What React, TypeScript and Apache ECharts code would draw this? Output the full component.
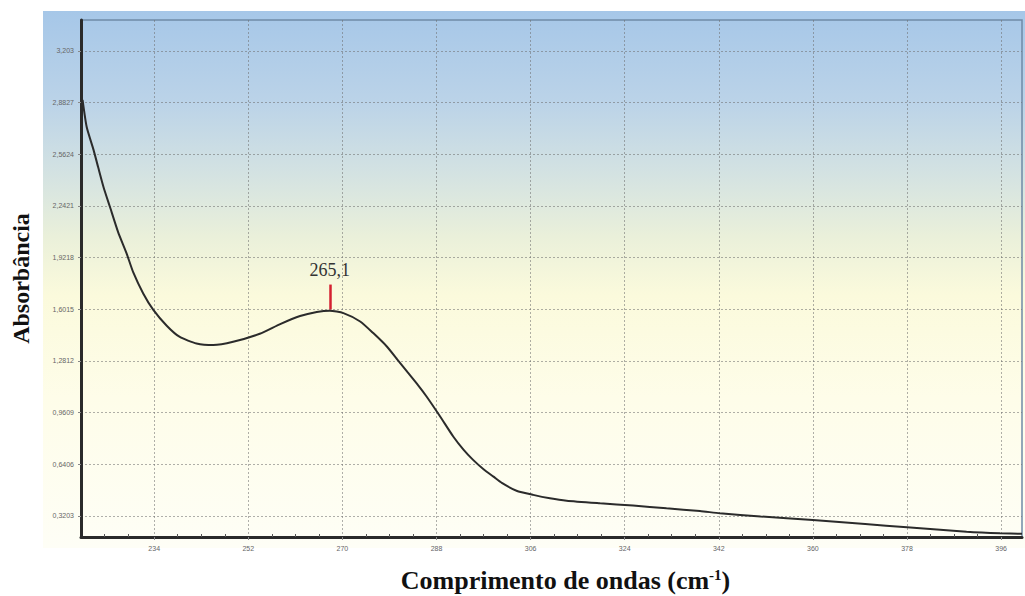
import React, { useEffect, useRef } from "react";
import * as echarts from "echarts";

const wavelengths = [
  220.3, 221.1, 222.4, 223.3, 224.3, 225.5, 227.1, 228.7, 230.0, 231.9, 233.8,
  236.4, 238.9, 242.1, 245.3, 249.1, 254.2, 258.1, 261.9, 265.1, 267.6, 270.2,
  273.4, 275.9, 278.5, 280.4, 282.5, 284.5, 286.1, 288.7, 291.2, 293.2, 295.0,
  297.0, 298.9, 300.5, 303.3, 306.5, 309.7, 312.9, 319.3, 325.6, 332.0, 338.4,
  342.2, 350.0, 360.0, 370.0, 378.0, 389.4, 395.8, 400.0,
];
const absorbance = [
  2.9, 2.73, 2.59, 2.48, 2.36, 2.24, 2.08, 1.95, 1.83, 1.7, 1.6,
  1.5, 1.43, 1.39, 1.38, 1.4, 1.45, 1.51, 1.56, 1.585, 1.593, 1.578,
  1.526, 1.454, 1.371, 1.295, 1.21, 1.13, 1.061, 0.937, 0.813, 0.73, 0.668,
  0.61, 0.564, 0.525, 0.477, 0.451, 0.43, 0.415, 0.399, 0.385, 0.368, 0.351,
  0.337, 0.317, 0.295, 0.27, 0.25, 0.223, 0.213, 0.21,
];

const xTicks = [234, 252, 270, 288, 306, 324, 342, 360, 378, 396];
const xMinorTicks = [
  224.5, 229, 238.5, 243, 247.5, 256.5, 261, 265.5, 274.5, 279, 283.5, 292.5,
  297, 301.5, 310.5, 315, 319.5, 328.5, 333, 337.5, 346.5, 351, 355.5, 364.5,
  369, 373.5, 382.5, 387, 391.5,
];
const yTicks = [0.3203, 0.6406, 0.9609, 1.2812, 1.6015, 1.9218, 2.2421, 2.5624, 2.8827, 3.203];
const yTickLabels = ["0,3203", "0,6406", "0,9609", "1,2812", "1,6015", "1,9218", "2,2421", "2,5624", "2,8827", "3,203"];

const peakWavelength = 267.6;
const peakAbsorbance = 1.6;
const peakMarkerTop = 1.755;
const peakLabel = "265,1";

const xRange = [220, 400];
const yRange = [0.19, 3.395];

export default function App() {
  const ref = useRef<HTMLDivElement>(null);
  useEffect(() => {
    if (!ref.current) return;
    const chart = echarts.init(ref.current, null, { renderer: "svg" });
    const gridLine = { color: "rgba(110,110,110,0.55)", width: 1, type: [2, 2] as any };
    chart.setOption({
      animation: false,
      graphic: [
        {
          type: "rect",
          left: 43,
          top: 11,
          z: -10,
          silent: true,
          shape: { width: 982, height: 537 },
          style: {
            fill: new echarts.graphic.LinearGradient(0, 0, 0, 1, [
              { offset: 0, color: "#a6c7e8" },
              { offset: 0.17, color: "#bbd3e8" },
              { offset: 0.3, color: "#d3e2e2" },
              { offset: 0.42, color: "#eaf0da" },
              { offset: 0.53, color: "#fbfadc" },
              { offset: 0.72, color: "#fefde9" },
              { offset: 1, color: "#fefef6" },
            ]),
          },
        },
      ],
      grid: {
        left: 81,
        right: 3,
        top: 20,
        bottom: 59,
        outerBoundsMode: "none",
        containLabel: false,
        show: true,
        backgroundColor: "transparent",
        borderColor: "#6f8aa6",
        borderWidth: 1.5,
      },
      xAxis: [
        {
          type: "value",
          min: xRange[0],
          max: xRange[1],
          name: "Comprimento de ondas (cm{sup|-1})",
          nameLocation: "middle",
          nameGap: 30,
          nameTextStyle: {
            fontFamily: "Liberation Serif",
            fontWeight: "bold",
            fontSize: 26,
            color: "#111",
            padding: [0, 0, 0, 28],
            rich: {
              sup: {
                fontFamily: "Liberation Serif",
                fontWeight: "bold",
                fontSize: 15,
                color: "#111",
                verticalAlign: "top",
                padding: [0, 0, 12, 0],
              },
            },
          },
          axisLine: { show: true, onZero: false, lineStyle: { color: "#2a2a2a", width: 3 } },
          axisTick: { show: true, length: 3, customValues: xTicks, lineStyle: { color: "#888" } },
          axisLabel: {
            customValues: xTicks,
            fontSize: 7,
            color: "#666",
            margin: 8,
            fontFamily: "Liberation Sans",
          },
          splitLine: { show: true, lineStyle: gridLine },
        },
        {
          type: "value",
          min: xRange[0],
          max: xRange[1],
          position: "bottom",
          axisLine: { show: false },
          axisLabel: { show: false },
          splitLine: { show: false },
          axisTick: {
            show: true,
            inside: true,
            length: 3,
            customValues: xMinorTicks,
            lineStyle: { color: "#555" },
          },
        },
      ],
      yAxis: {
        type: "value",
        min: yRange[0],
        max: yRange[1],
        name: "Absorbância",
        nameLocation: "middle",
        nameGap: 48,
        nameRotate: 90,
        nameTextStyle: {
          fontFamily: "Liberation Serif",
          fontWeight: "bold",
          fontSize: 24,
          color: "#111",
        },
        axisLine: { show: true, onZero: false, lineStyle: { color: "#2a2a2a", width: 3 } },
        axisTick: { show: true, length: 3, customValues: yTicks, lineStyle: { color: "#888" } },
        axisLabel: {
          customValues: yTicks,
          fontSize: 7,
          color: "#666",
          margin: 7,
          fontFamily: "Liberation Sans",
          formatter: (v: number) => {
            let best = 0;
            for (let i = 0; i < yTicks.length; i++) {
              if (Math.abs(yTicks[i] - v) < Math.abs(yTicks[best] - v)) best = i;
            }
            return yTickLabels[best];
          },
        },
        splitLine: { show: true, lineStyle: gridLine },
      },
      series: [
        {
          type: "line",
          data: wavelengths.map((w, i) => [w, absorbance[i]]),
          showSymbol: false,
          smooth: 0.2,
          lineStyle: { color: "#2b2b2b", width: 2 },
          z: 5,
          markLine: {
            silent: true,
            symbol: "none",
            lineStyle: { color: "#d42030", width: 2.5, type: "solid" },
            label: {
              show: true,
              position: "end",
              formatter: peakLabel,
              fontFamily: "Liberation Serif",
              fontSize: 18,
              color: "#333",
              distance: 6,
            },
            data: [
              [
                { coord: [peakWavelength, peakAbsorbance] },
                { coord: [peakWavelength, peakMarkerTop] },
              ],
            ],
          },
        },
      ],
    });
    return () => chart.dispose();
  }, []);
  return (
    <div
      ref={ref}
      style={{ position: "fixed", left: 0, top: 0, width: 1025, height: 596, background: "#fff" }}
    />
  );
}
